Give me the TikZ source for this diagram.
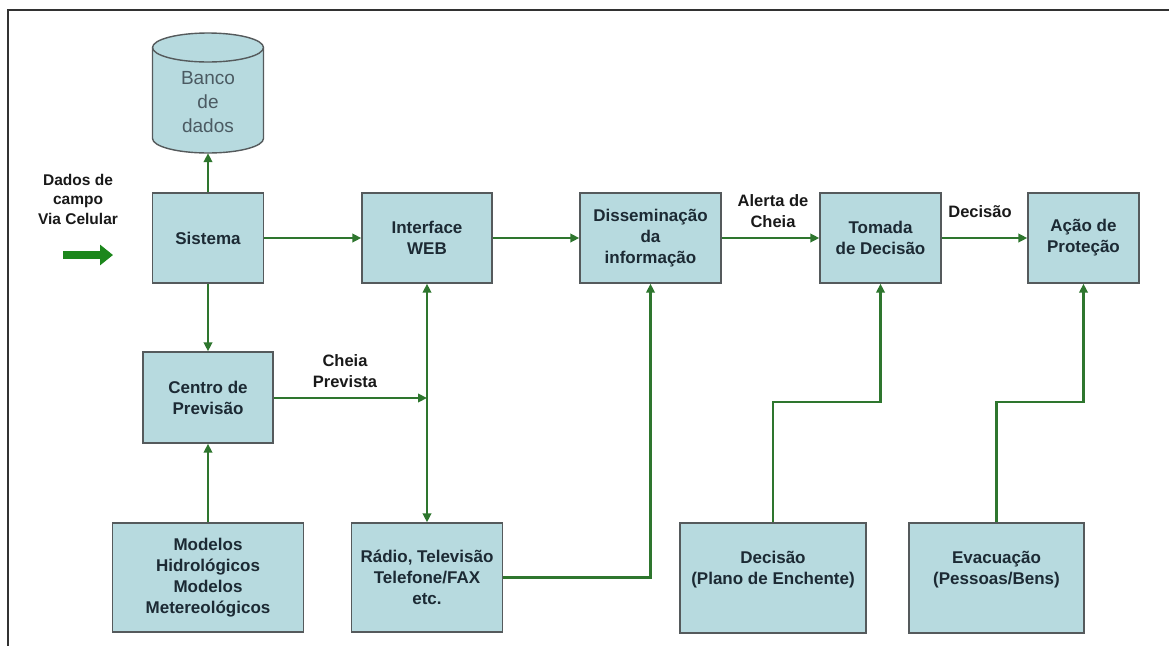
\documentclass[tikz,border=0pt]{standalone}
\usepackage{fontspec}
\setmainfont{Liberation Sans}
\usetikzlibrary{arrows.meta,calc}

\definecolor{boxfill}{RGB}{183,218,223}
\definecolor{boxline}{RGB}{85,90,92}
\definecolor{flow}{RGB}{46,118,46}
\definecolor{inflow}{RGB}{28,135,28}
\definecolor{boxtext}{RGB}{28,42,52}
\definecolor{dbtext}{RGB}{75,90,98}
\definecolor{frameline}{RGB}{50,50,50}

\begin{document}
\begin{tikzpicture}[x=1pt,y=-1pt,
  block/.style={draw=boxline, fill=boxfill, line width=1.4pt, inner sep=0pt,
    align=center, text=boxtext, font=\bfseries\fontsize{17}{21}\selectfont},
  lbl/.style={align=center, inner sep=0pt, text=black!90,
    font=\bfseries\fontsize{16.5}{21}\selectfont},
  conn/.style={draw=flow, line width=2.8pt, -{Triangle[length=9pt,width=8.5pt]}},
]
\useasboundingbox (0,0) rectangle (1169,646);

% outer frame (top and left edges)
\draw[frameline, line width=2pt] (1169,10) -- (8,10) -- (8,646);

% database cylinder
\path[draw=boxline, fill=boxfill, line width=1.4pt]
  (152.5,47.5) -- (152.5,138.5)
  arc[start angle=180, end angle=360, x radius=55.5pt, y radius=14.5pt]
  -- (263.5,47.5)
  arc[start angle=0, end angle=180, x radius=55.5pt, y radius=14.5pt] -- cycle;
\draw[boxline, line width=1.4pt] (152.5,47.5)
  arc[start angle=180, end angle=360, x radius=55.5pt, y radius=14.5pt];
\node[minimum width=111pt, minimum height=120pt, inner sep=0pt] (db) at (208,93) {};
\node[align=center, inner sep=0pt, text=dbtext, font=\fontsize{19}{24}\selectfont]
  (dbtxt) at (208,102) {Banco\\de\\dados};

% main row
\node[block, minimum width=111pt, minimum height=90pt] (sys)  at (208,238)   {Sistema};
\node[block, minimum width=130pt, minimum height=90pt] (web)  at (427,238)   {Interface\\WEB};
\node[block, minimum width=141pt, minimum height=90pt] (dis)  at (650.5,238) {Dissemina\c{c}\~ao\\da\\informa\c{c}\~ao};
\node[block, minimum width=121pt, minimum height=90pt] (tom)  at (880.5,238) {Tomada\\de Decis\~ao};
\node[block, minimum width=111pt, minimum height=90pt] (acao) at (1083.5,238) {A\c{c}\~ao de\\Prote\c{c}\~ao};

% lower boxes
\node[block, minimum width=130pt, minimum height=91pt]  (cen)  at (208,397.5) {Centro de\\Previs\~ao};
\node[block, minimum width=191pt, minimum height=109pt] (mod)  at (208,577.5) {Modelos\\Hidrol\'ogicos\\Modelos\\Metereol\'ogicos};
\node[block, minimum width=151pt, minimum height=109pt] (rad)  at (427,577.5) {R\'adio, Televis\~ao\\Telefone/FAX\\etc.};
\node[block, minimum width=186pt, minimum height=110pt] (dec)  at (773,578)   {Decis\~ao\\(Plano de Enchente)\\\mbox{}};
\node[block, minimum width=175pt, minimum height=110pt] (evac) at (996.5,578) {Evacua\c{c}\~ao\\(Pessoas/Bens)\\\mbox{}};

% incoming field data
\node[lbl, font=\bfseries\fontsize{15.5}{19.5}\selectfont] (campo) at (78,199) {Dados de\\campo\\Via Celular};
\draw[inflow, line width=8pt, -{Triangle[length=13pt,width=20pt]}] (63,255) -- (113,255);

% edge labels
\node[lbl] (lcheia)   at (345,371.5) {Cheia\\Prevista};
\node[lbl] (lalerta)  at (773,211.5) {Alerta de\\Cheia};
\node[lbl] (ldecisao) at (980,212)   {Decis\~ao};

% junction points
\coordinate (jweb) at (427,398);
\coordinate (kdec) at (773,402);
\coordinate (kevac) at (996.5,402);

% connectors
\draw[conn] (sys.north) -- (db.south);
\draw[conn] (sys.east) -- (web.west);
\draw[conn] (web.east) -- (dis.west);
\draw[conn] (dis.east) -- (tom.west);
\draw[conn] (tom.east) -- (acao.west);
\draw[conn] (sys.south) -- (cen.north);
\draw[conn] (mod.north) -- (cen.south);
\draw[draw=flow, line width=2.8pt, {Triangle[length=9pt,width=8.5pt]}-{Triangle[length=9pt,width=8.5pt]}] (web.south) -- (rad.north);
\draw[conn] (cen.east |- jweb) -- (jweb);
\draw[conn] (rad.east) -| (dis.south);
\draw[conn] (dec.north) -- (kdec) -| (tom.south);
\draw[conn] (evac.north) -- (kevac) -| (acao.south);
\end{tikzpicture}
\end{document}
